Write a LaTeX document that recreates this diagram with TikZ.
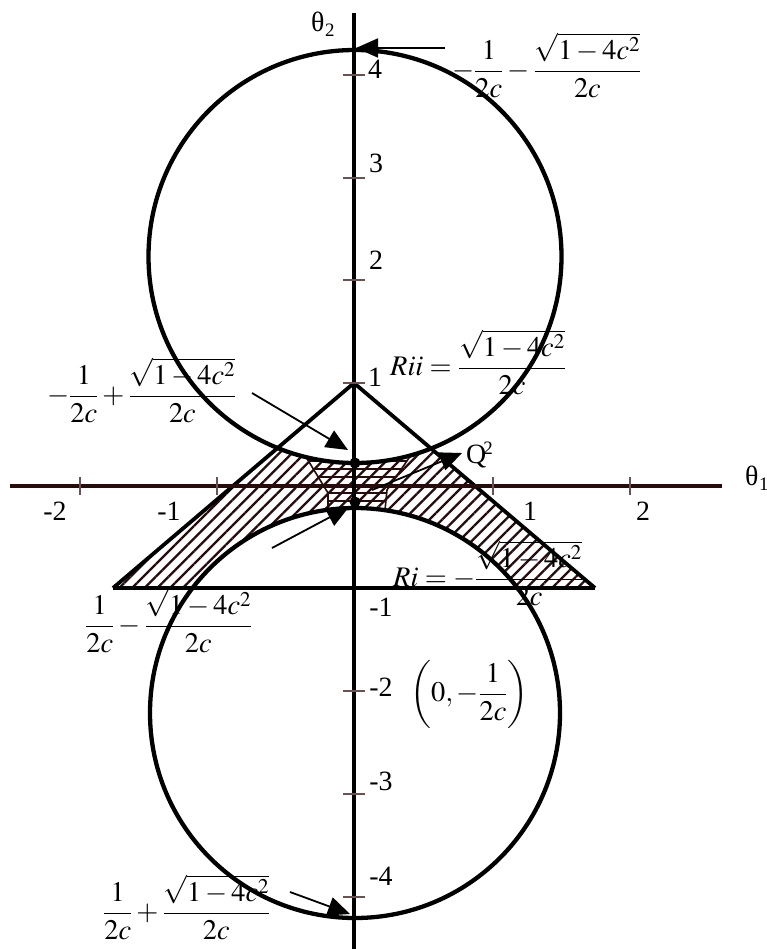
\documentclass[tikz,border=0pt]{standalone}
\usepackage{mathptmx}
\usepackage{fontspec}
\setmainfont{Liberation Serif}
\usetikzlibrary{arrows.meta,patterns.meta}
\definecolor{axbrown}{RGB}{40,12,12}
\definecolor{hatchc}{RGB}{40,12,12}
\definecolor{tickc}{RGB}{110,80,80}
\tikzset{
 curve/.style={line width=4.3bp, black},
 edgeline/.style={line width=3.8bp, black},
 tickline/.style={line width=1.3bp, tickc},
 lbl/.style={font=\fontsize{28}{32}\selectfont, inner sep=0pt},
 mlbl/.style={font=\fontsize{28.5}{32}\selectfont, inner sep=0pt, anchor=base west},
 pointer/.style={line width=1.8bp, -{Triangle[length=22bp,width=19bp]}, shorten >=0pt},
 hatchfill/.style={pattern={Lines[angle=45,distance=9bp,line width=2.3bp]}, pattern color=hatchc},
 crossfill/.style={pattern={Lines[angle=0,distance=8bp,line width=2.2bp]}, pattern color=hatchc},
 dotnode/.style={circle, fill=black, minimum size=11bp, inner sep=0pt},
}
\begin{document}
\begin{tikzpicture}[x=1bp,y=-1bp]
\useasboundingbox (0,0) rectangle (767,949);
\coordinate (A) at (354,383);
\coordinate (BL) at (113,588);
\coordinate (BR) at (595,588);
\coordinate (C1) at (355,256.5);
\coordinate (C2) at (355,713);
% hatched region
\begin{scope}
 \clip (A) -- (BL) -- (BR) -- cycle;
 \fill[hatchfill, even odd rule] (A) -- (BL) -- (BR) -- cycle (C1) circle[radius=206.5bp] (C2) circle[radius=205bp];
\end{scope}
% cross hatched central part
\begin{scope}
 \clip (306,457) -- (328,493) -- (328,510) -- (385,510) -- (387,490) -- (411,455) -- cycle;
 \fill[crossfill, even odd rule] (290,430) rectangle (430,530) (C1) circle[radius=206.5bp] (C2) circle[radius=205bp];
\end{scope}
\draw[line width=1.6bp, hatchc] (306,457) -- (328,493) -- (328,510);
\draw[line width=1.6bp, hatchc] (411,455) -- (387,490) -- (385,510);
% circles
\draw[curve] (C1) circle[radius=206.5bp];
\draw[curve] (C2) circle[radius=205bp];
% triangle
\draw[edgeline] (BL) -- (A) -- (BR);
\draw[line width=4.3bp] (BL) -- (BR);
% axes
\draw[line width=4bp, axbrown] (10,486) -- (722,486);
\draw[line width=3.8bp, black] (354,13) -- (354,949);
% ticks
\foreach \tx in {80,217,493,630} \draw[tickline] (\tx,477) -- (\tx,495);
\foreach \ty in {75,178,280,383,691,794,897} \draw[tickline] (343,\ty) -- (365,\ty);
% tick labels
\node[lbl] (x-2) at (55,511) {-2};
\node[lbl] (x-1) at (169,511) {-1};
\node[lbl] (x1) at (530,511) {1};
\node[lbl] (x2) at (643,511) {2};
\node[lbl] (y4) at (375,69) {4};
\node[lbl] (y3) at (376,163) {3};
\node[lbl] (y2) at (376,260) {2};
\node[lbl] (y1) at (375,377) {1};
\node[lbl] (ym1) at (381,607) {-1};
\node[lbl] (ym2) at (381,687) {-2};
\node[lbl] (ym3) at (381,781) {-3};
\node[lbl] (ym4) at (381,876) {-4};
% axis names
\node[lbl, anchor=west] (th2) at (311,24) {θ\kern0.5bp{\fontsize{19}{20}\selectfont\raisebox{-5bp}{2}}};
\node[lbl, anchor=west] (th1) at (745,478) {θ\kern0.5bp{\fontsize{19}{20}\selectfont\raisebox{-5bp}{1}}};
% dots
\node[dotnode] (d1) at (355,463) {};
\node[dotnode] (d2) at (355,502) {};
% formula labels
\node[mlbl] (ltop) at (452,78.5) {$\displaystyle -\frac{1}{2c}-\frac{\sqrt{1-4c^2}}{2c}$};
\node[mlbl] (lul) at (47,403.5) {$\displaystyle -\frac{1}{2c}+\frac{\sqrt{1-4c^2}}{2c}$};
\node[mlbl] (lrii) at (390,375.5) {$\displaystyle Rii=\frac{\sqrt{1-4c^2}}{2c}$};
\node[mlbl] (lri) at (393,586.5) {$\displaystyle Ri=-\frac{\sqrt{1-4c^2}}{2c}$};
\node[mlbl] (lll) at (85,633.5) {$\displaystyle \frac{1}{2c}-\frac{\sqrt{1-4c^2}}{2c}$};
\node[mlbl] (lcen) at (410,701.5) {$\displaystyle \left(0,-\frac{1}{2c}\right)$};
\node[mlbl] (lbot) at (103,920.5) {$\displaystyle \frac{1}{2c}+\frac{\sqrt{1-4c^2}}{2c}$};
\node[lbl, anchor=west] (q2) at (466,455) {Q\kern-3bp\raisebox{9bp}{\fontsize{19}{20}\selectfont 2}};
% arrows
\coordinate (s1) at (445,48);
\coordinate (e1) at (356,48);
\coordinate (s2) at (252,393);
\coordinate (e2) at (348,450);
\coordinate (s3) at (272,548);
\coordinate (e3) at (349,507);
\coordinate (s4) at (372,490);
\coordinate (e4) at (462,453);
\coordinate (s5) at (290,892);
\coordinate (e5) at (350,914);
\draw[pointer] (s1) -- (e1);
\draw[pointer] (s2) -- (e2);
\draw[pointer] (s3) -- (e3);
\draw[pointer] (s4) -- (e4);
\draw[pointer] (s5) -- (e5);
\end{tikzpicture}
\end{document}
